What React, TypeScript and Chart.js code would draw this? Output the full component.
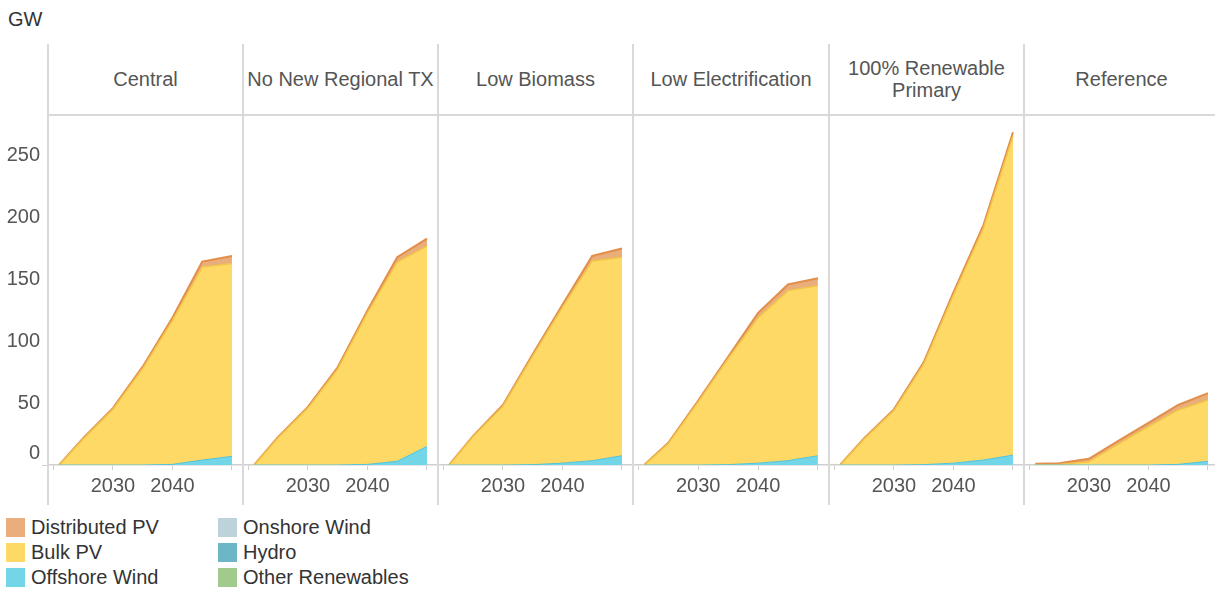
import React, { useEffect, useRef } from 'react';
import { Chart, registerables } from 'chart.js';

Chart.register(...registerables);

// ---------- DATA ----------
const years = [2021, 2025, 2030, 2035, 2040, 2045, 2050];

const scenarioTitles: string[][] = [
  ['Central'],
  ['No New Regional TX'],
  ['Low Biomass'],
  ['Low Electrification'],
  ['100% Renewable', 'Primary'],
  ['Reference'],
];

// GW per scenario (rows follow scenarioTitles order)
const otherRenewables = [
  [0, 0, 0, 0, 0, 0, 0],
  [0, 0, 0, 0, 0, 0, 0],
  [0, 0, 0, 0, 0, 0, 0],
  [0, 0, 0, 0, 0, 0, 0],
  [0, 0, 0, 0, 0, 0, 0],
  [0, 0, 0, 0, 0, 0, 0],
];
const hydro = [
  [0, 0, 0, 0, 0, 0, 0],
  [0, 0, 0, 0, 0, 0, 0],
  [0, 0, 0, 0, 0, 0, 0],
  [0, 0, 0, 0, 0, 0, 0],
  [0, 0, 0, 0, 0, 0, 0],
  [0, 0, 0, 0, 0, 0, 0],
];
const onshoreWind = [
  [0, 0, 0, 0, 0, 0, 0],
  [0, 0, 0, 0, 0, 0, 0],
  [0, 0, 0, 0, 0, 0, 0],
  [0, 0, 0, 0, 0, 0, 0],
  [0, 0, 0, 0, 0, 0, 0],
  [0, 0, 0, 0, 0, 0, 0],
];
const offshoreWind = [
  [0, 0, 0, 0, 0.5, 4, 7],
  [0, 0, 0, 0, 0.5, 3, 15],
  [0, 0, 0, 0.3, 1.5, 3.5, 7.5],
  [0, 0, 0, 0.3, 1.5, 3.5, 7.5],
  [0, 0, 0, 0.3, 1.5, 4, 8],
  [0, 0, 0, 0, 0, 0.5, 3],
];
const bulkPV = [
  [0, 21, 45, 78, 116.5, 156, 156],
  [0, 22, 46, 77.5, 122.5, 161, 162],
  [0, 23, 47.5, 87.7, 126, 161.5, 160.5],
  [0, 17.3, 51, 85.7, 117.5, 137.5, 137.5],
  [0, 21, 44, 81.2, 136, 187, 258],
  [0.2, 0.5, 2.7, 17, 31, 44, 49.6],
];
const distributedPV = [
  [0.3, 0.6, 1, 1.5, 2, 4.5, 6],
  [0.3, 0.6, 1, 1.5, 2, 4, 6],
  [0.3, 0.6, 1, 1.5, 2, 4, 7],
  [0.3, 0.7, 1, 1.5, 4, 5, 6],
  [0.3, 0.6, 1, 1.5, 2, 2.5, 3],
  [0.8, 1, 2.3, 2.7, 3, 4, 5.5],
];

const yTickValues = [0, 50, 100, 150, 200, 250];
const xTickValues = [2020, 2030, 2040, 2050];
const xTickLabels = [2030, 2040];

const legendItems = [
  { label: 'Distributed PV', color: '#EAAD7C' },
  { label: 'Bulk PV', color: '#FFD966' },
  { label: 'Offshore Wind', color: '#72D6E8' },
  { label: 'Onshore Wind', color: '#BDD3DC' },
  { label: 'Hydro', color: '#6DB6C6' },
  { label: 'Other Renewables', color: '#A0CB8D' },
];

// ---------- STYLE ----------
const FONT = "'Liberation Sans', Arial, Helvetica, sans-serif";
const panelLefts = [48, 243, 438, 633, 829, 1024, 1219];
const SEP = '#d9d9d9';

function Panel({ index }: { index: number }) {
  const ref = useRef<HTMLCanvasElement>(null);
  const isFirst = index === 0;
  const left = isFirst ? 0 : panelLefts[index];
  const width = panelLefts[index + 1] - left;

  useEffect(() => {
    if (!ref.current) return;
    const series = [
      { label: 'Other Renewables', data: otherRenewables[index], bg: '#A0CB8D', border: '#A0CB8D', bw: 0 },
      { label: 'Hydro', data: hydro[index], bg: '#6DB6C6', border: '#6DB6C6', bw: 0 },
      { label: 'Onshore Wind', data: onshoreWind[index], bg: '#BDD3DC', border: '#BDD3DC', bw: 0 },
      { label: 'Offshore Wind', data: offshoreWind[index], bg: '#72D6E8', border: '#52C3D8', bw: 1 },
      { label: 'Bulk PV', data: bulkPV[index], bg: '#FFD966', border: '#F0C548', bw: 1.5 },
      { label: 'Distributed PV', data: distributedPV[index], bg: '#EAAD7C', border: '#E38E4A', bw: 2 },
    ];
    const chart = new Chart(ref.current, {
      type: 'line',
      data: {
        datasets: series.map((s, i) => ({
          label: s.label,
          data: years.map((y, j) => ({ x: y, y: s.data[j] })),
          backgroundColor: s.bg,
          borderColor: s.border,
          borderWidth: s.bw,
          fill: i === 0 ? 'origin' : '-1',
          pointRadius: 0,
          tension: 0,
        })),
      },
      options: {
        responsive: false,
        maintainAspectRatio: false,
        animation: false,
        layout: { padding: 0, autoPadding: false },
        plugins: { legend: { display: false }, tooltip: { enabled: false } },
        scales: {
          x: {
            type: 'linear',
            min: 2019.1,
            max: 2051.85,
            afterBuildTicks: (s: any) => {
              s.ticks = xTickValues.map((v) => ({ value: v }));
            },
            afterFit: (s: any) => {
              s.height = 40;
              s.paddingLeft = 0;
              s.paddingRight = 0;
            },
            ticks: {
              autoSkip: false,
              maxRotation: 0,
              padding: 4,
              color: '#555',
              font: { family: FONT, size: 20 },
              callback: (v: any) => (xTickLabels.includes(Number(v)) ? String(v) : ''),
            },
            grid: { drawOnChartArea: false, drawTicks: true, tickLength: 5, color: '#cfcfcf' },
            border: { display: true, color: '#cfcfcf', width: 1.5 },
          },
          y: {
            stacked: true,
            min: 0,
            max: 283,
            display: isFirst,
            afterBuildTicks: (s: any) => {
              s.ticks = yTickValues.map((v) => ({ value: v }));
            },
            afterFit: (s: any) => {
              s.width = isFirst ? 48 : 0;
              s.paddingTop = 0;
              s.paddingBottom = 0;
            },
            ticks: {
              padding: 2,
              color: '#555',
              font: { family: FONT, size: 20 },
              callback: (v: any) => (Number(v) === 0 ? ['0', ''] : String(v)),
            },
            grid: {
              drawOnChartArea: false,
              drawTicks: true,
              tickLength: 6,
              tickColor: (ctx: any) => (ctx.tick && ctx.tick.value === 0 ? '#cfcfcf' : 'rgba(0,0,0,0)'),
            },
            border: { display: false },
          },
        },
      },
    } as any);
    return () => chart.destroy();
  }, [index]);

  return (
    <canvas
      ref={ref}
      width={width}
      height={390}
      style={{ position: 'absolute', left, top: 115, width, height: 390 }}
    />
  );
}

export default function App() {
  return (
    <div
      style={{
        position: 'fixed',
        left: 0,
        top: 0,
        width: 1215,
        height: 590,
        overflow: 'hidden',
        background: '#fff',
        fontFamily: FONT,
      }}
    >
      <div style={{ position: 'absolute', left: 8, top: 8, fontSize: 20, lineHeight: '22px', color: '#333' }}>GW</div>

      {scenarioTitles.map((_, i) => (
        <Panel key={i} index={i} />
      ))}

      {/* header titles */}
      {scenarioTitles.map((lines, i) => (
        <div
          key={'t' + i}
          style={{
            position: 'absolute',
            left: panelLefts[i],
            width: panelLefts[i + 1] - panelLefts[i],
            top: 79 - (lines.length * 22) / 2,
            textAlign: 'center',
            fontSize: 20,
            lineHeight: '22px',
            color: '#555',
            whiteSpace: 'nowrap',
          }}
        >
          {lines.map((l, k) => (
            <div key={k}>{l}</div>
          ))}
        </div>
      ))}

      {/* header bottom line */}
      <div style={{ position: 'absolute', left: 48, top: 114, width: 1180, height: 2, background: SEP }} />

      {/* panel separators */}
      {panelLefts.slice(0, 6).map((x, i) => (
        <div key={'s' + i} style={{ position: 'absolute', left: x - 1, top: 44, width: 2, height: 461, background: SEP }} />
      ))}

      {/* legend */}
      {legendItems.map((it, i) => {
        const col = Math.floor(i / 3);
        const row = i % 3;
        const x = col === 0 ? 6 : 218;
        const y = 518 + row * 25;
        return (
          <div key={'l' + i} style={{ position: 'absolute', left: x, top: y, height: 19, display: 'flex', alignItems: 'center' }}>
            <div style={{ width: 19, height: 19, background: it.color }} />
            <div style={{ marginLeft: 6, fontSize: 20, lineHeight: '19px', color: '#333', whiteSpace: 'nowrap' }}>{it.label}</div>
          </div>
        );
      })}
    </div>
  );
}
